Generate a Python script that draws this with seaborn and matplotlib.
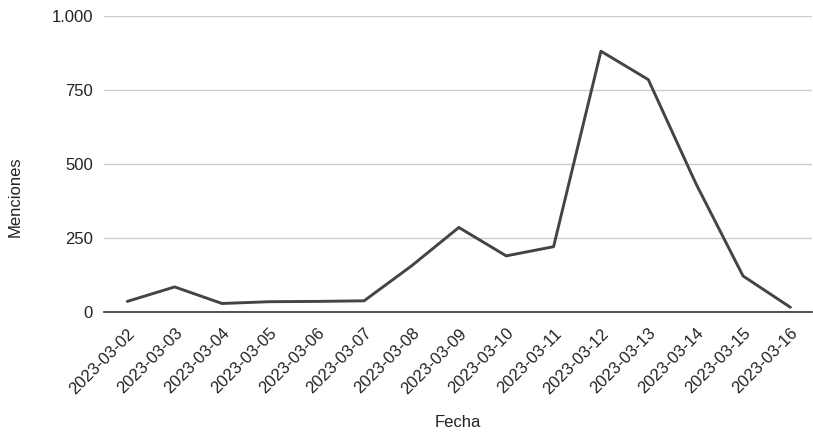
import matplotlib
matplotlib.use("Agg")
import matplotlib.pyplot as plt
from matplotlib.ticker import FuncFormatter
import seaborn as sns
import pandas as pd

fechas = ["2023-03-02", "2023-03-03", "2023-03-04", "2023-03-05", "2023-03-06",
          "2023-03-07", "2023-03-08", "2023-03-09", "2023-03-10", "2023-03-11",
          "2023-03-12", "2023-03-13", "2023-03-14", "2023-03-15", "2023-03-16"]
menciones = [35, 84, 28, 34, 35, 37, 155, 285, 189, 220, 881, 785, 435, 121, 15]
y_ticks = [0, 250, 500, 750, 1000]

df = pd.DataFrame({"Fecha": fechas, "Menciones": menciones})

sns.set_theme(style="white")
plt.rcParams["font.family"] = ["Liberation Sans", "DejaVu Sans"]

fig = plt.figure(figsize=(8.13, 4.33), dpi=100)
ax = fig.add_axes([0.128, 0.28, 0.871, 0.683])

sns.lineplot(data=df, x="Fecha", y="Menciones", sort=False, ax=ax,
             color="#444444", linewidth=2.1, zorder=3)

ax.set_ylim(0, 1000)
ax.set_xlim(-0.49, len(fechas) - 0.54)
ax.set_yticks(y_ticks)
ax.yaxis.set_major_formatter(FuncFormatter(lambda v, p: f"{int(v):,}".replace(",", ".")))
ax.grid(axis="y", color="#cccccc", linewidth=1.0)
ax.grid(axis="x", visible=False)
for s in ["top", "right", "left"]:
    ax.spines[s].set_visible(False)
ax.spines["bottom"].set_color("#333333")
ax.spines["bottom"].set_linewidth(1.2)
ax.spines["bottom"].set_zorder(4)

ax.tick_params(axis="y", length=0, pad=8, labelsize=12, labelcolor="#222222")
ax.tick_params(axis="x", length=0, pad=10, labelsize=12, labelcolor="#222222")
plt.setp(ax.get_xticklabels(), rotation=45, ha="right", rotation_mode="anchor")

ax.set_xlabel("Fecha", fontsize=12, color="#222222")
ax.set_ylabel("Menciones", fontsize=12, color="#222222")
ax.xaxis.set_label_coords(0.5, -0.349)
ax.yaxis.set_label_coords(-0.115, 0.388)

fig.savefig("out.png", dpi=100)
